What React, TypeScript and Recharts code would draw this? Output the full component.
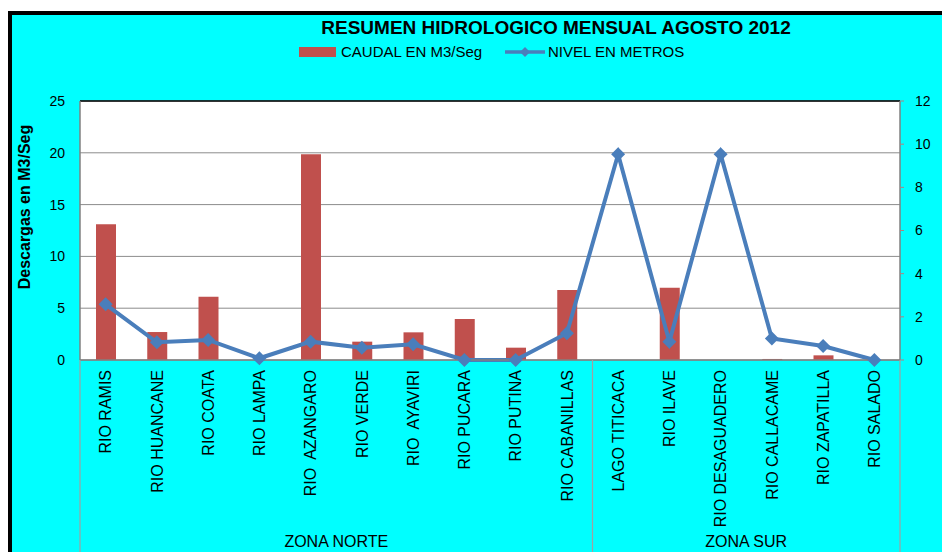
import React from 'react';
import {
  ComposedChart,
  Bar,
  Line,
  XAxis,
  YAxis,
  CartesianGrid,
  ReferenceLine
} from 'recharts';

const categories = [
  'RIO RAMIS',
  'RIO HUANCANE',
  'RIO COATA',
  'RIO LAMPA',
  'RIO  AZANGARO',
  'RIO VERDE',
  'RIO  AYAVIRI',
  'RIO PUCARA',
  'RIO PUTINA',
  'RIO CABANILLAS',
  'LAGO TITICACA',
  'RIO ILAVE',
  'RIO DESAGUADERO',
  'RIO CALLACAME',
  'RIO ZAPATILLA',
  'RIO SALADO'
];

// caudal (m3/s), left axis
const caudal = [13.1, 2.7, 6.1, 0, 19.85, 1.77, 2.67, 3.96, 1.19, 6.76, null, 6.98, null, 0.1, 0.45, 0];
// nivel (m), right axis
const nivel = [2.58, 0.82, 0.93, 0.08, 0.85, 0.57, 0.73, 0, 0, 1.24, 9.53, 0.85, 9.53, 1.0, 0.65, 0];

const zones = [
  { name: 'ZONA NORTE', count: 10 },
  { name: 'ZONA SUR', count: 6 }
];

const leftTicks = [0, 5, 10, 15, 20, 25];
const rightTicks = [0, 2, 4, 6, 8, 10, 12];

const data = categories.map((name, i) => ({ name, caudal: caudal[i], nivel: nivel[i] }));

const W = 942;
const H = 552;
const PLOT_LEFT = 80;
const PLOT_RIGHT = 900;
const PLOT_TOP = 101;
const PLOT_BOTTOM = 360;

const FONT = '"Liberation Sans", Arial, sans-serif';
const BAR_COLOR = '#C0504D';
const LINE_COLOR = '#4A7EBB';

const Diamond = (props: any) => {
  const { cx, cy } = props;
  if (cx == null || cy == null) return <g />;
  const r = 7;
  return (
    <path
      d={`M${cx},${cy - r} L${cx + r},${cy} L${cx},${cy + r} L${cx - r},${cy} Z`}
      fill={LINE_COLOR}
    />
  );
};

const CatTick = (props: any) => {
  const { x, y, payload } = props;
  return (
    <g transform={`translate(${x},${y})`}>
      <text
        transform="rotate(-90)"
        textAnchor="end"
        dy="0.36em"
        fontSize={16}
        fontFamily={FONT}
        fill="#000"
        style={{ whiteSpace: 'pre' }}
      >
        {payload.value}
      </text>
    </g>
  );
};

export default function App() {
  const catW = (PLOT_RIGHT - PLOT_LEFT) / categories.length;
  let acc = 0;
  const zoneBounds = zones.map((z) => {
    const x0 = PLOT_LEFT + acc * catW;
    acc += z.count;
    const x1 = PLOT_LEFT + acc * catW;
    return { ...z, x0, x1 };
  });

  return (
    <div style={{ position: 'absolute', left: 0, top: 0, width: W, height: H, overflow: 'hidden', background: '#fff' }}>
      <div
        style={{
          position: 'absolute',
          left: 8,
          top: 11,
          width: W,
          height: H,
          background: '#00FFFF',
          borderLeft: '4px solid #000',
          borderTop: '4px solid #000'
        }}
      />
      <div style={{ position: 'absolute', left: 0, top: 0 }}>
        <ComposedChart
          width={W}
          height={H}
          data={data}
          margin={{ top: PLOT_TOP, right: 0, bottom: 0, left: 0 }}
          barSize={20}
        >
          <CartesianGrid
            yAxisId="left"
            vertical={false}
            stroke="#8c8c8c"
            fill="#ffffff"
            fillOpacity={1}
          />
          <XAxis
            dataKey="name"
            height={H - PLOT_BOTTOM}
            interval={0}
            tick={<CatTick />}
            tickLine={false}
            tickSize={0}
            tickMargin={10}
            axisLine={{ stroke: '#808080', strokeWidth: 1.5 }}
          />
          <YAxis
            yAxisId="left"
            orientation="left"
            width={PLOT_LEFT}
            domain={[0, 25]}
            ticks={leftTicks}
            interval={0}
            tickLine={false}
            tickSize={0}
            tickMargin={15}
            axisLine={{ stroke: '#808080', strokeWidth: 1.5 }}
            tick={{ fill: '#000', fontSize: 14, fontFamily: FONT }}
          />
          <YAxis
            yAxisId="right"
            orientation="right"
            width={W - PLOT_RIGHT}
            domain={[0, 12]}
            ticks={rightTicks}
            interval={0}
            tickSize={4}
            tickMargin={11}
            tickLine={{ stroke: '#b08080' }}
            axisLine={{ stroke: '#808080', strokeWidth: 1.5 }}
            tick={{ fill: '#000', fontSize: 14, fontFamily: FONT }}
          />
          <ReferenceLine yAxisId="left" y={25} stroke="#000" strokeWidth={1.5} />
          <Bar
            yAxisId="left"
            dataKey="caudal"
            fill={BAR_COLOR}
            isAnimationActive={false}
          />
          <Line
            yAxisId="right"
            type="linear"
            dataKey="nivel"
            stroke={LINE_COLOR}
            strokeWidth={4}
            dot={<Diamond />}
            activeDot={false}
            isAnimationActive={false}
          />
        </ComposedChart>
      </div>
      <svg
        width={W}
        height={H}
        style={{ position: 'absolute', left: 0, top: 0, pointerEvents: 'none' }}
        fontFamily={FONT}
      >
        <text x={556} y={34} textAnchor="middle" fontSize={19} fontWeight="bold" fill="#000">
          RESUMEN HIDROLOGICO MENSUAL AGOSTO 2012
        </text>
        <rect x={299} y={47} width={37} height={10} fill={BAR_COLOR} />
        <text x={341} y={57} fontSize={15} fill="#000">CAUDAL EN M3/Seg</text>
        <line x1={505} y1={52} x2={545} y2={52} stroke={LINE_COLOR} strokeWidth={3.5} />
        <path d="M525,47 L530,52 L525,57 L520,52 Z" fill={LINE_COLOR} />
        <text x={548} y={57} fontSize={15} fill="#000">NIVEL EN METROS</text>
        <text
          transform="translate(30,207) rotate(-90)"
          textAnchor="middle"
          fontSize={16}
          fontWeight="bold"
          fill="#000"
        >
          Descargas en M3/Seg
        </text>
        {zoneBounds.map((z, i) => (
          <g key={z.name}>
            {i === 0 && (
              <line x1={z.x0} y1={PLOT_BOTTOM} x2={z.x0} y2={H} stroke="#a0a0a0" strokeWidth={1.2} />
            )}
            <line x1={z.x1} y1={PLOT_BOTTOM} x2={z.x1} y2={H} stroke="#a0a0a0" strokeWidth={1.2} />
            <text x={(z.x0 + z.x1) / 2} y={547} textAnchor="middle" fontSize={16} fill="#000">
              {z.name}
            </text>
          </g>
        ))}
      </svg>
    </div>
  );
}
